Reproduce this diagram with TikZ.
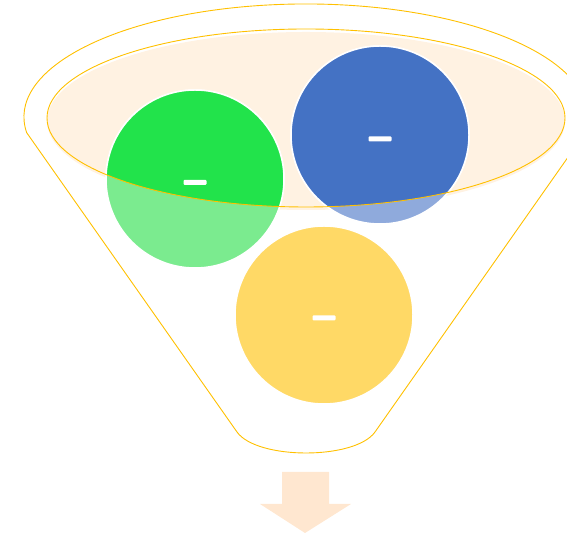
\documentclass[tikz,border=0pt]{standalone}
\usepackage{tikz}
\usetikzlibrary{positioning}
\definecolor{gold}{HTML}{FFC000}
\definecolor{cream}{HTML}{FFF2E2}
\definecolor{peach}{HTML}{FFE7D0}
\definecolor{greendark}{HTML}{22E34B}
\definecolor{greenlight}{HTML}{7BEB8F}
\definecolor{bluedark}{HTML}{4472C4}
\definecolor{bluelight}{HTML}{8FAADC}
\definecolor{yellowball}{HTML}{FFD966}

\begin{document}
\begin{tikzpicture}[x=1pt,y=1pt,
  rim/.style={draw=gold,line width=0.9pt},
  ball/.style={circle,draw=white,line width=1.5pt,minimum size=178pt,inner sep=0pt},
  dashmark/.style={fill=white,rounded corners=1pt,minimum width=23pt,minimum height=5pt,inner sep=0pt}
]
\useasboundingbox (0,0) rectangle (567,534);
% funnel outline
\draw[rim] (237,102) -- (26.7,401.3)
  arc[start angle=188,end angle=-8,x radius=282pt,y radius=113pt]
  -- (375,102) .. controls (355,74) and (257,74) .. (237,102);
% mouth of the funnel
\fill[cream] (306,413) ellipse[x radius=259pt,y radius=89pt];
\node[ball,fill=greenlight] (green) at (195,355) {};
\node[ball,fill=bluelight] (blue) at (380,399) {};
\node[ball,fill=yellowball] (yellow) at (324,219) {};
\begin{scope}
  \clip (306,416) ellipse[x radius=259pt,y radius=89pt];
  \node[ball,fill=greendark] at (green.center) {};
  \node[ball,fill=bluedark] at (blue.center) {};
\end{scope}
\draw[rim] (306,416) ellipse[x radius=259pt,y radius=89pt];
\node[dashmark] (greendash) at ([yshift=-3.5pt]green.center) {};
\node[dashmark] (bluedash) at ([yshift=-4pt]blue.center) {};
\node[dashmark] (yellowdash) at ([yshift=-3pt]yellow.center) {};
% arrow out
\fill[peach] (282,62) -- (329,62) -- (329,30) -- (351,30) -- (305,1)
  -- (260,30) -- (282,30) -- cycle;
\end{tikzpicture}
\end{document}
